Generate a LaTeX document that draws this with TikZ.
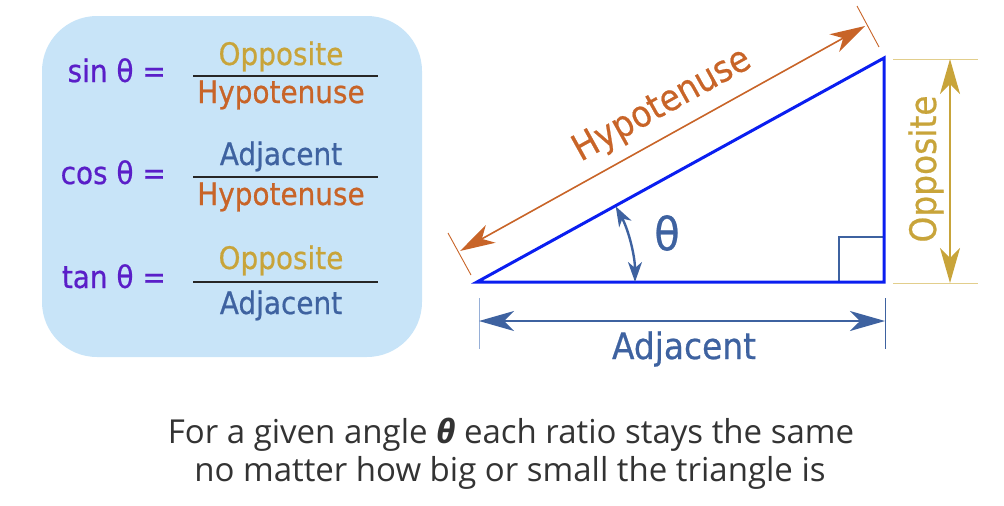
\documentclass[tikz,border=0pt]{standalone}
\usepackage{fontspec}
\setmainfont{DejaVu Sans}[FakeStretch=0.9, FakeBold=0.6]
\newfontfamily\capfont{Open Sans}
\usetikzlibrary{arrows.meta,calc}
\definecolor{boxblue}{RGB}{200,228,248}
\definecolor{fnpurple}{RGB}{90,30,200}
\definecolor{oppgold}{RGB}{200,164,58}
\definecolor{oppgoldlt}{RGB}{226,206,140}
\definecolor{hyporange}{RGB}{200,100,40}
\definecolor{adjblue}{RGB}{62,98,160}
\definecolor{adjbluelt}{RGB}{150,175,215}
\definecolor{triblue}{RGB}{10,30,240}
\definecolor{captext}{RGB}{51,51,51}
\tikzset{
  bigtip/.tip={Stealth[length=35pt, width=20pt, inset=10pt]},
  smalltip/.tip={Stealth[length=20pt, width=14pt, inset=6pt]},
  boxlbl/.style={font=\fontsize{31}{33}\selectfont, inner sep=0pt},
  trilbl/.style={font=\fontsize{36.5}{40}\selectfont, inner sep=0pt},
  fnlbl/.style={boxlbl, text=fnpurple, anchor=base east},
  fraclbl/.style={boxlbl, anchor=base},
  fracbar/.style={line width=1.4pt, draw=black!85},
  dimarrow/.style={line width=1.8pt, {bigtip}-{bigtip}},
  captxt/.style={font=\capfont\fontsize{33}{36}\selectfont, text=captext, anchor=base, inner sep=0pt},
  tick/.style={line width=0.9pt}
}
\begin{document}
\begin{tikzpicture}[x=1pt, y=-1pt]
\useasboundingbox (0,0) rectangle (1004,506);
% formula box
\fill[boxblue, rounded corners=55pt] (42,16) rectangle (422,357);
% sin
\node[fnlbl] (sinl) at (166,82) {sin θ =};
\node[fraclbl, text=oppgold] (sinn) at (281,65) {Opposite};
\node[fraclbl, text=hyporange] (sind) at (281,103) {Hypotenuse};
\coordinate (sb1) at (193,76); \coordinate (sb2) at (378,76);
\draw[fracbar] (sb1) -- (sb2);
% cos
\node[fnlbl] (cosl) at (166,184) {cos θ =};
\node[fraclbl, text=adjblue] (cosn) at (281,165) {Adjacent};
\node[fraclbl, text=hyporange] (cosd) at (281,205) {Hypotenuse};
\coordinate (cb1) at (193,177); \coordinate (cb2) at (378,177);
\draw[fracbar] (cb1) -- (cb2);
% tan
\node[fnlbl] (tanl) at (166,288) {tan θ =};
\node[fraclbl, text=oppgold] (tann) at (281,269) {Opposite};
\node[fraclbl, text=adjblue] (tand) at (281,314) {Adjacent};
\coordinate (tb1) at (193,282); \coordinate (tb2) at (378,282);
\draw[fracbar] (tb1) -- (tb2);
% triangle
\coordinate (A) at (477,282);
\coordinate (B) at (884,282);
\coordinate (C) at (884,58);
% right angle mark
\coordinate (r1) at (839,282); \coordinate (r2) at (839,237); \coordinate (r3) at (884,237);
\draw[adjblue, line width=2.6pt] (r1) -- (r2) -- (r3);
\draw[triblue, line width=3pt, line join=miter] (A) -- (B) -- (C) -- cycle;
% angle arc
\coordinate (arcstart) at ($(A)+(158,0)$);
\draw[adjblue, line width=2.4pt, {smalltip}-{smalltip}]
  (arcstart) arc[start angle=0, end angle=-28.6, radius=158];
\node[inner sep=0pt, text=adjblue, font=\fontsize{46}{48}\selectfont] (theta) at (667,233) {θ};
% hypotenuse dimension
\coordinate (ht1a) at (448,233); \coordinate (ht1b) at (471,275);
\coordinate (ht2a) at (857,6); \coordinate (ht2b) at (879,47);
\draw[hyporange, tick] (ht1a) -- (ht1b);
\draw[hyporange, tick] (ht2a) -- (ht2b);
\coordinate (h1) at (460,251); \coordinate (h2) at (865,26);
\draw[hyporange, dimarrow, line width=1.6pt] (h1) -- (h2);
\node[trilbl, text=hyporange, rotate=29.05, anchor=base] (hyp) at (667,114) {Hypotenuse};
% opposite dimension
\coordinate (oe1a) at (893,59); \coordinate (oe1b) at (978,59);
\coordinate (oe2a) at (893,283); \coordinate (oe2b) at (978,283);
\draw[oppgoldlt, tick] (oe1a) -- (oe1b);
\draw[oppgoldlt, tick] (oe2a) -- (oe2b);
\coordinate (o1) at (950,59); \coordinate (o2) at (950,283);
\draw[oppgold, dimarrow] (o1) -- (o2);
\node[trilbl, text=oppgold, rotate=90, anchor=base] (opp) at (936,169) {Opposite};
% adjacent dimension
\coordinate (at1a) at (479,298); \coordinate (at1b) at (479,349);
\coordinate (at2a) at (885,298); \coordinate (at2b) at (885,349);
\draw[adjbluelt, tick] (at1a) -- (at1b);
\draw[adjblue, tick] (at2a) -- (at2b);
\coordinate (a1) at (479,321); \coordinate (a2) at (885,321);
\draw[adjblue, dimarrow] (a1) -- (a2);
\node[trilbl, text=adjblue, anchor=base] (adj) at (684,359) {Adjacent};
% caption
\node[captxt] (cap1) at (511,443) {For a given angle {\bfseries\itshape θ} each ratio stays the same};
\node[captxt] (cap2) at (510,481) {no matter how big or small the triangle is};
\end{tikzpicture}
\end{document}
